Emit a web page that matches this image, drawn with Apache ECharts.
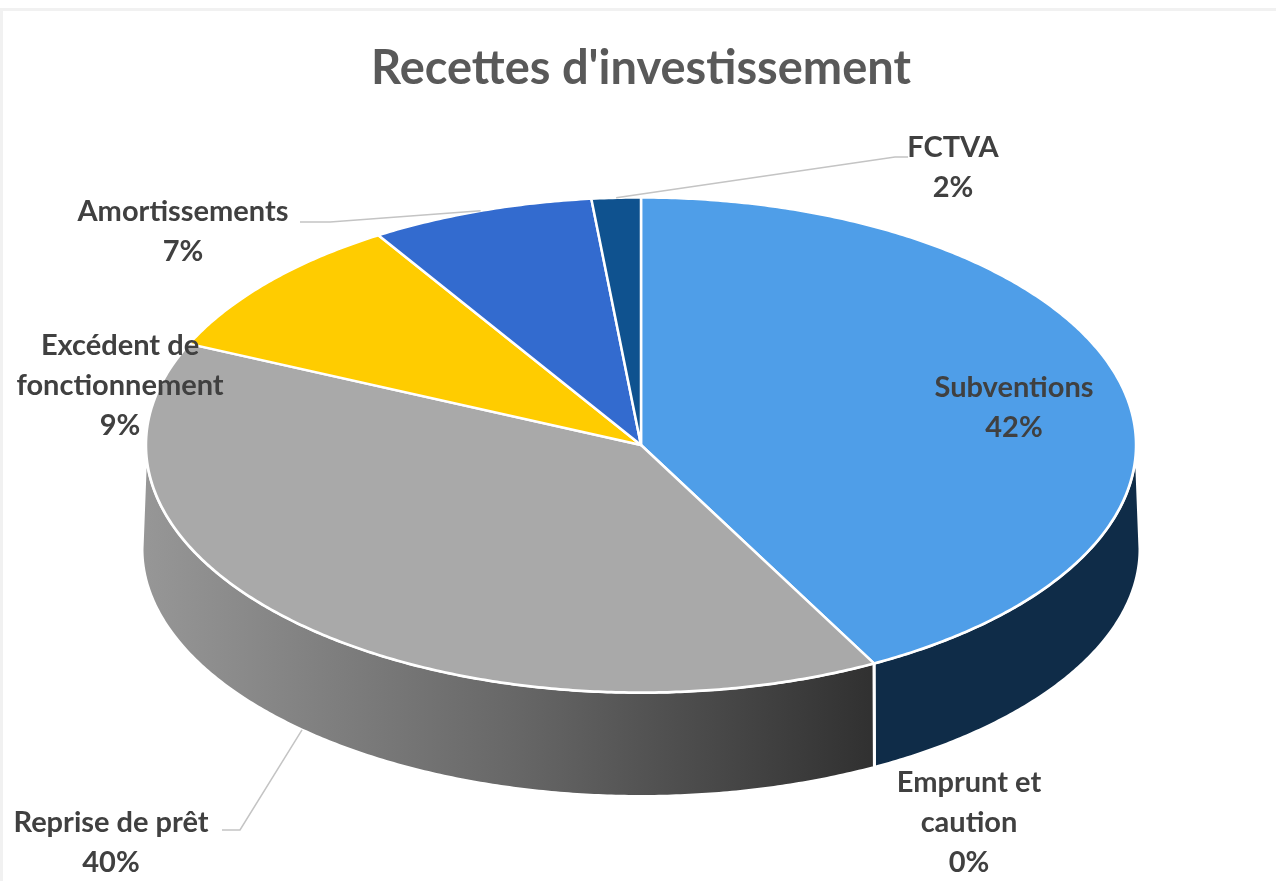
<!DOCTYPE html>
<html>
<head>
<meta charset="utf-8">
<style>
  html, body { margin: 0; padding: 0; background: #fff; }
  #chart { width: 1276px; height: 881px; }
</style>
<script src="https://cdn.jsdelivr.net/npm/echarts@6/dist/echarts.min.js"></script>
</head>
<body>
<div id="chart"></div>
<script>
const categories = ['Subventions', 'Emprunt et\ncaution', 'Reprise de prêt', 'Excédent de\nfonctionnement', 'Amortissements', 'FCTVA']
const values = [42.2, 0, 39.5, 9.4, 7.3, 1.6]
const topColors = ['#4f9ee8', '#e8792b', '#a9a9a9', '#ffcc00', '#336bcf', '#0f528f']

// Ellipse of the tilted pie, in pixels
const cx = 641
const cy = 445
const rx = 495
const ry = 247.5
const depth = 104
const flare = 4 // the bottom rim bulges a touch at its far left and right

// Label centres, then the elbows of the leader lines
const labelAt = [[1014, 408], [969, 823], [111, 843], [120, 386], [183, 232], [953, 168]]
const leaders = [null, null, [[240, 830], [222, 830]], null, [[330, 222], [300, 222]], [[895, 157], [908, 157]]]

const total = values.reduce((a, b) => a + b, 0)
const startOf = (i) => values.slice(0, i).reduce((a, b) => a + b, 0) / total * 360

// degrees clockwise from the top of the pie
const rim = (deg, drop = 0) => {
  const a = deg * Math.PI / 180
  const s = Math.sin(a)
  return [cx + rx * s + (drop ? flare * s * s * s : 0), cy - ry * Math.cos(a) + drop]
}
const arc = (from, to, drop = 0) => {
  const pts = []
  for (let d = from; d < to; d += 0.5) pts.push(rim(d, drop))
  pts.push(rim(to, drop))
  return pts
}

const sideFill = (i) => {
  if (i === 0) return '#0f2c48'
  return new echarts.graphic.LinearGradient(0, 0, 1, 0, [
    { offset: 0, color: '#979797' },
    { offset: 0.5, color: '#686868' },
    { offset: 1, color: '#303030' }
  ])
}

const renderItem = (params, api) => {
  const i = params.dataIndex
  const from = startOf(i)
  const to = from + api.value(0) / total * 360
  const children = []
  if (to > from) {
    const f = Math.max(from, 90)
    const t = Math.min(to, 270)
    if (t > f) {
      children.push({
        type: 'polygon',
        z2: 1,
        shape: { points: arc(f, t).concat(arc(f, t, depth).reverse()) },
        style: { fill: sideFill(i), stroke: '#fff', lineWidth: 3 }
      })
    }
    children.push({
      type: 'polygon',
      z2: 2,
      shape: { points: [[cx, cy]].concat(arc(from, to)) },
      style: { fill: topColors[i], stroke: '#fff', lineWidth: 2.5, lineJoin: 'round' }
    })
  }
  if (leaders[i]) {
    const mid = (from + to) / 2
    const onFront = mid > 90 && mid < 270
    children.push({
      type: 'polyline',
      z2: 3,
      shape: { points: [rim(mid, onFront ? depth : 0)].concat(leaders[i]) },
      style: { fill: 'none', stroke: '#c4c4c4', lineWidth: 1.5 }
    })
  }
  children.push({
    type: 'text',
    z2: 4,
    x: labelAt[i][0],
    y: labelAt[i][1],
    style: {
      text: categories[i] + '\n' + Math.round(api.value(0) / total * 100) + '%',
      fill: '#404040',
      font: 'bold 29px Lato',
      lineHeight: 40,
      align: 'center',
      verticalAlign: 'middle'
    }
  })
  return { type: 'group', children }
}

const chart = echarts.init(document.getElementById('chart'))
chart.setOption({
  animation: false,
  backgroundColor: '#fff',
  title: {
    text: "Recettes d'investissement",
    left: 636,
    top: 64,
    textAlign: 'center',
    textVerticalAlign: 'middle',
    textStyle: { color: '#595959', fontFamily: 'Lato', fontWeight: 'bold', fontSize: 47 }
  },
  graphic: [
    { type: 'rect', shape: { x: 0, y: 8, width: 1276, height: 3 }, style: { fill: '#f1f1f1' } },
    { type: 'rect', shape: { x: 0, y: 8, width: 3, height: 873 }, style: { fill: '#f1f1f1' } }
  ],
  series: [{
    type: 'custom',
    coordinateSystem: 'none',
    renderItem,
    data: values.map((v) => [v])
  }]
})
</script>
</body>
</html>
